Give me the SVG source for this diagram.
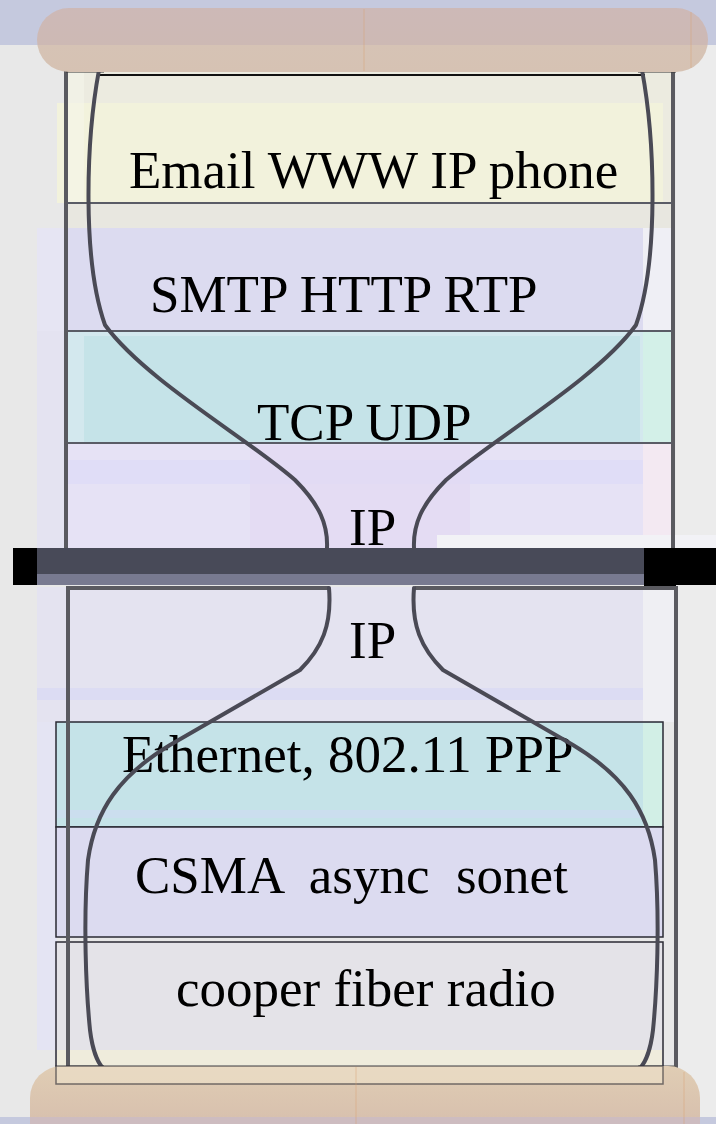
<svg xmlns="http://www.w3.org/2000/svg" width="716" height="1124" viewBox="0 0 716 1124">
<defs>
<linearGradient id="topbar" gradientUnits="userSpaceOnUse" x1="0" y1="8" x2="0" y2="72">
<stop offset="0" stop-color="#cdb9b7"/><stop offset="0.58" stop-color="#cdb9b4"/><stop offset="0.58" stop-color="#d6c3b5"/><stop offset="1" stop-color="#d6c2b3"/>
</linearGradient>
<linearGradient id="botbar" gradientUnits="userSpaceOnUse" x1="0" y1="1066" x2="0" y2="1124">
<stop offset="0" stop-color="#e0cdb4"/><stop offset="0.88" stop-color="#d8c1ae"/><stop offset="0.88" stop-color="#cdbcc0"/><stop offset="1" stop-color="#cdbcc0"/>
</linearGradient>
<style>
.lbl{font-family:"Liberation Serif","Times New Roman",serif;font-size:53px;fill:#000}
.sep{stroke:#5a5c66;stroke-width:2;fill:none}
.box{stroke:#2a2a33;stroke-width:1.5}
.frame{stroke:#5a5a60;stroke-width:4;fill:none}
.glass{stroke:#4a4a55;stroke-width:4;fill:none;stroke-linecap:round;stroke-linejoin:round}
.grain{stroke:#d9a070;stroke-width:1;opacity:0.45}
</style>
</defs>
<!-- background -->
<rect x="0" y="0" width="716" height="1124" fill="#e8e8e8"/>
<rect x="0" y="0" width="716" height="45" fill="#c5c9de"/>
<rect x="676" y="45" width="40" height="1072" fill="#ececec"/>
<rect x="0" y="1117" width="716" height="7" fill="#c5c9de"/>

<!-- top half panels -->
<g id="layer-app">
<rect x="66" y="72" width="607" height="131" fill="#ecebe0"/>
<rect x="57" y="103" width="606" height="100" fill="#f2f2dc"/>
<rect x="66" y="72" width="18" height="131" fill="#f5f5ea" opacity="0.6"/>
<text class="lbl" x="129" y="188">Email WWW IP phone</text>
</g>
<g id="layer-protocol">
<rect x="66" y="203" width="607" height="128" fill="#e8e7e0"/>
<rect x="37" y="228" width="606" height="103" fill="#dcdbf0"/>
<rect x="643" y="228" width="30" height="103" fill="#efeff5"/>
<rect x="37" y="228" width="30" height="103" fill="#e6e5f3"/>
<text class="lbl" x="150" y="312">SMTP HTTP RTP</text>
</g>
<g id="layer-transport">
<rect x="66" y="331" width="607" height="112" fill="#d3e8ee"/>
<rect x="84" y="336" width="556" height="107" fill="#c5e3e8"/>
<rect x="643" y="331" width="30" height="112" fill="#d3f0e8"/>
<rect x="37" y="331" width="30" height="112" fill="#e4e3f1"/>
<text class="lbl" x="257" y="440">TCP UDP</text>
</g>
<g id="layer-ip-top">
<rect x="66" y="443" width="607" height="105" fill="#e6e2f5"/>
<rect x="37" y="460" width="606" height="24" fill="#e0ddf7"/>
<rect x="250" y="445" width="220" height="103" fill="#e2daf2" opacity="0.7"/>
<rect x="643" y="443" width="30" height="105" fill="#f3e9f2"/>
<rect x="37" y="443" width="30" height="105" fill="#e4e3f1"/>
<rect x="437" y="535" width="279" height="13" fill="#f2f2f6"/>
<text class="lbl" x="349" y="545">IP</text>
</g>

<!-- middle bar -->
<g id="divider">
<rect x="13" y="548" width="703" height="37" fill="#000"/>
<rect x="37" y="548" width="607" height="26" fill="#484a58"/>
<rect x="37" y="574" width="607" height="11" fill="#787a90"/>
<rect x="644" y="584" width="32" height="5" fill="#000"/>
</g>

<!-- bottom half panels -->
<g id="layer-ip-bottom">
<rect x="37" y="587" width="639" height="135" fill="#e4e3f0"/>
<rect x="37" y="688" width="606" height="12" fill="#dcdcf3"/>
<rect x="643" y="587" width="33" height="135" fill="#efeff3"/>
<text class="lbl" x="349" y="658">IP</text>
</g>
<g id="layer-link">
<rect x="37" y="722" width="20" height="328" fill="#e4e4f3"/>
<rect class="box" x="56" y="722" width="607" height="105" fill="#c5e3e8"/>
<rect x="643" y="723" width="19" height="103" fill="#d2efe6"/>
<rect x="57" y="810" width="586" height="8" fill="#ccdcef" opacity="0.8"/>
<text class="lbl" x="122" y="772">Ethernet, 802.11 PPP</text>
</g>
<g id="layer-mac">
<rect class="box" x="56" y="827" width="607" height="110" fill="#dcdbf0"/>
<text class="lbl" x="135" y="893" xml:space="preserve">CSMA  async  sonet</text>
</g>
<g id="layer-physical">
<rect class="box" x="56" y="942" width="607" height="142" fill="#e4e3e8"/>
<rect x="57" y="1050" width="605" height="33" fill="#efecdc"/>
<text class="lbl" x="176" y="1006">cooper fiber radio</text>
</g>

<!-- frame -->
<g id="frame">
<line class="frame" x1="66" y1="70" x2="66" y2="548"/>
<line class="frame" x1="673" y1="70" x2="673" y2="548"/>
<line x1="97" y1="75" x2="645" y2="75" stroke="#111" stroke-width="2"/>
<line class="sep" x1="68" y1="203" x2="672" y2="203"/>
<line class="sep" x1="68" y1="331" x2="672" y2="331"/>
<line class="sep" x1="68" y1="443" x2="672" y2="443"/>
<path class="frame" d="M68 1068 V588 H329 M415 588 H676 V1068"/>
<line x1="66" y1="70" x2="104" y2="70" stroke="#333" stroke-width="5"/>
<line x1="638" y1="70" x2="676" y2="70" stroke="#333" stroke-width="5"/>
<line x1="68" y1="1068" x2="104" y2="1068" stroke="#555" stroke-width="5"/>
<line x1="638" y1="1068" x2="676" y2="1068" stroke="#555" stroke-width="5"/>
</g>

<!-- hourglass outline -->
<g id="connectors">
<path class="glass" d="M99 70 C86 140 82 260 105 325 C145 380 250 440 295 480 C320 505 328 525 327 548"/>
<path class="glass" d="M642 70 C655 140 659 260 636 325 C596 380 491 440 446 480 C421 505 413 525 414 548"/>
<path class="glass" d="M329 588 C332 625 322 648 300 670 L170 745 C120 775 95 810 88 860 C83 920 86 990 90 1030 C93 1055 100 1065 103 1068"/>
<path class="glass" d="M414 588 C411 625 421 648 443 670 L573 745 C623 775 648 810 655 860 C660 920 657 990 653 1030 C650 1055 643 1065 640 1068"/>
</g>

<!-- wooden bars -->
<g id="top-bar">
<rect x="37" y="8" width="671" height="64" rx="32" ry="32" fill="url(#topbar)"/>
<line class="grain" x1="364" y1="9" x2="364" y2="71"/>
<line class="grain" x1="691" y1="12" x2="691" y2="68"/>
</g>
<g id="bottom-bar">
<rect x="30" y="1066" width="670" height="90" rx="32" ry="32" fill="url(#botbar)"/>
<rect class="box" x="56" y="1066" width="607" height="18" fill="#efe3cc" opacity="0.6"/>
<line class="grain" x1="356" y1="1067" x2="356" y2="1124"/>
<line class="grain" x1="684" y1="1072" x2="684" y2="1124"/>
</g>
</svg>
